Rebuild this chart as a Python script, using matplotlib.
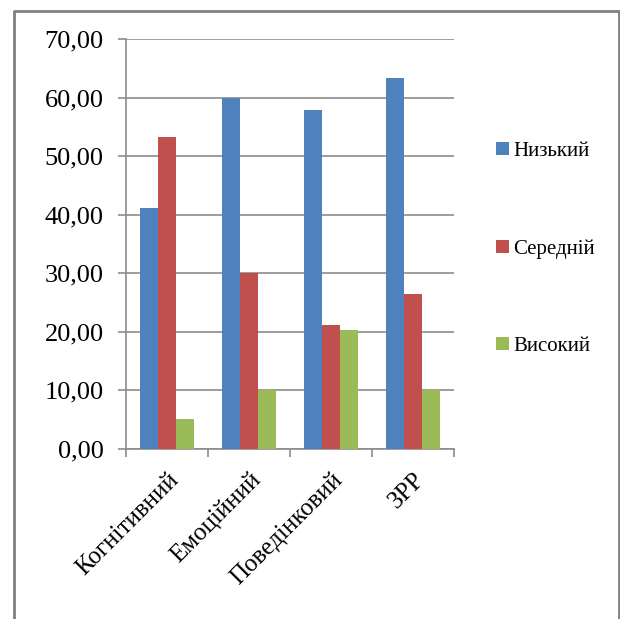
import numpy as np
import matplotlib.pyplot as plt
from matplotlib.lines import Line2D
from matplotlib.ticker import FuncFormatter

categories = ['Когнітивний', 'Емоційний', 'Поведінковий', 'ЗРР']
series = ['Низький', 'Середній', 'Високий']
low = [41.2, 60.0, 57.8, 63.3]
mid = [53.3, 30.0, 21.2, 26.5]
high = [5.1, 10.0, 20.3, 10.0]
colors = ['#4F81BD', '#C0504D', '#9BBB59']

plt.rcParams['font.family'] = ['Liberation Serif', 'DejaVu Serif']

fig = plt.figure(figsize=(6.2, 6.19), dpi=100)
ax = fig.add_axes([126 / 620, 1 - 449 / 619, 328 / 620, 410 / 619])

x = np.arange(len(categories))
w = 1 / 4.5
for i, (vals, name) in enumerate(zip([low, mid, high], series)):
    ax.bar(x + (i - 1) * w, vals, width=w, color=colors[i], label=name, zorder=3)

ax.set_xlim(-0.5, len(categories) - 0.5)
ax.set_ylim(0, 70)
ax.set_yticks(np.arange(0, 71, 10))
ax.yaxis.set_major_formatter(FuncFormatter(lambda v, p: f'{v:.2f}'.replace('.', ',')))
ax.grid(axis='y', color='#8c8c8c', linewidth=1.2, zorder=0)

# category boundaries carry the ticks, labels sit under the group centres
ax.set_xticks(np.arange(-0.5, len(categories), 1))
ax.set_xticklabels([])
ax.set_xticks(x, minor=True)
ax.set_xticklabels(categories, minor=True, rotation=45, ha='right',
                   rotation_mode='anchor', fontsize=18)
ax.tick_params(axis='x', which='minor', length=0, pad=14)
ax.tick_params(axis='x', which='major', length=6, color='#8c8c8c', width=1.2)
ax.tick_params(axis='y', length=6, color='#8c8c8c', width=1.2, pad=10, labelsize=19)

for side in ['top', 'right']:
    ax.spines[side].set_visible(False)
for side in ['left', 'bottom']:
    ax.spines[side].set_color('#8c8c8c')
    ax.spines[side].set_linewidth(1.2)

fig.legend(loc='center left', bbox_to_anchor=(486 / 620, 1 - 249 / 619),
           frameon=False, fontsize=15, handlelength=0.6, handleheight=0.6,
           handletextpad=0.2, labelspacing=3.75, borderpad=0)

# outer chart border
fx = [14 / 620, 14 / 620, 619 / 620, 619 / 620]
fy = [-0.01, 1 - 11 / 619, 1 - 11 / 619, -0.01]
fig.add_artist(Line2D(fx, fy, color='#808080', linewidth=2, transform=fig.transFigure))

fig.savefig('out.png', dpi=100)
